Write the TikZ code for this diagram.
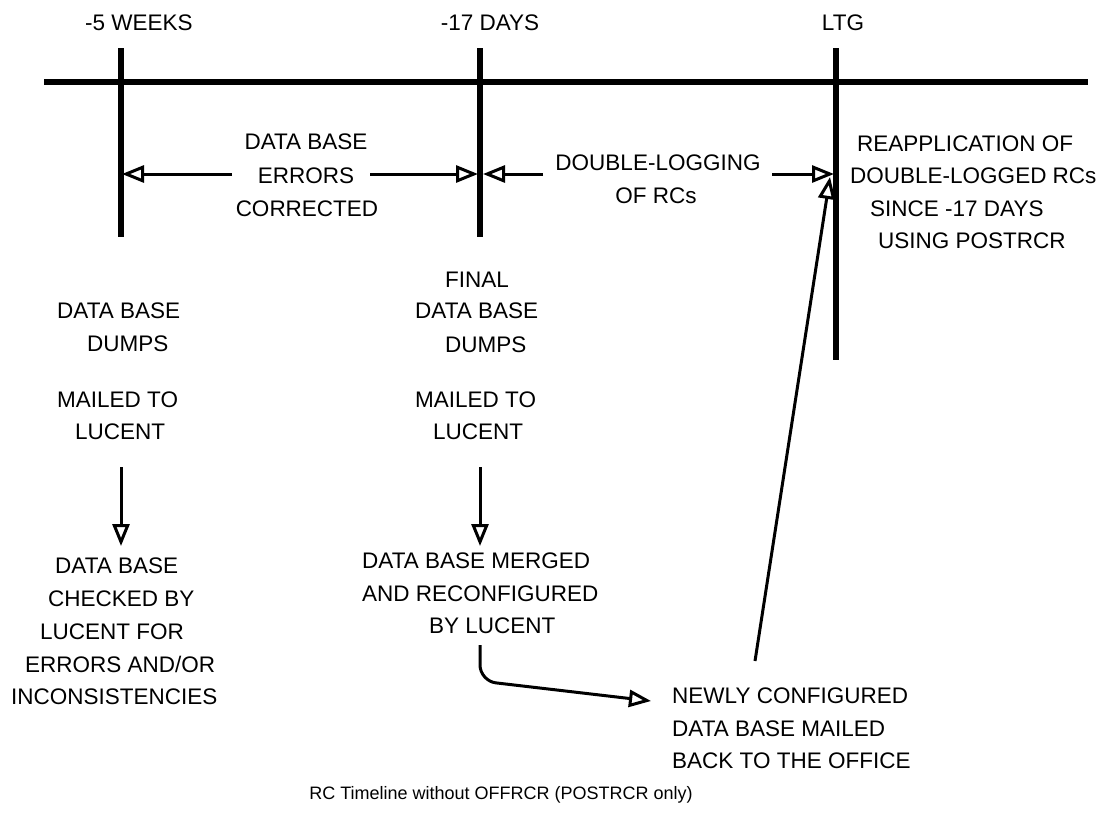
\documentclass[tikz,border=0pt]{standalone}
\usepackage{fontspec}
\setmainfont{Liberation Sans}
\usetikzlibrary{arrows.meta}
\begin{document}
\begin{tikzpicture}[x=1pt,y=-1pt,
  lbl/.style={font=\fontsize{22.5}{33}\selectfont, inner sep=0pt, anchor=base west},
  ctr/.style={font=\fontsize{22.5}{33}\selectfont, inner sep=0pt, anchor=base},
  captiontext/.style={font=\fontsize{18}{22}\selectfont, inner sep=0pt, anchor=base},
  axisline/.style={line width=6.5pt},
  tickline/.style={line width=6pt},
  arr/.style={line width=3pt, -{Triangle[open,length=22pt,width=17pt,line width=3pt]}},
]
\useasboundingbox (0,0) rectangle (1102,831);

% time axis and the three milestones
\coordinate (axL) at (44,82);
\coordinate (axR) at (1088,82);
\draw[axisline] (axL) -- (axR);
\coordinate (m1t) at (121,48);  \coordinate (m1b) at (121,237);
\coordinate (m2t) at (480,48);  \coordinate (m2b) at (480,237);
\coordinate (m3t) at (836,48);  \coordinate (m3b) at (836,360);
\draw[tickline] (m1t) -- (m1b);
\draw[tickline] (m2t) -- (m2b);
\draw[tickline] (m3t) -- (m3b);

\node[ctr] (lab5w) at (139,30) {-5 WEEKS};
\node[ctr] (lab17d) at (490,30) {-17 DAYS};
\node[ctr] (labltg) at (843,30) {LTG};

% interval between -5 weeks and -17 days
\node[ctr] (err1) at (306,149) {DATA BASE};
\node[ctr] (err2) at (306,183) {ERRORS};
\node[ctr] (err3) at (307,216) {CORRECTED};
\coordinate (errL) at (232,174);
\coordinate (errR) at (370,174);
\coordinate (m1a) at (122,174);
\coordinate (m2a) at (478,174);
\draw[arr] (errL) -- (m1a);
\draw[arr] (errR) -- (m2a);

% interval between -17 days and LTG
\node[ctr] (dbl1) at (658,170) {DOUBLE-LOGGING};
\node[ctr] (dbl2) at (656,203) {OF RCs};
\coordinate (dblL) at (543,174);
\coordinate (dblR) at (772,174);
\coordinate (m2c) at (483,174);
\coordinate (m3a) at (834,174);
\draw[arr] (dblL) -- (m2c);
\draw[arr] (dblR) -- (m3a);

% after LTG
\node[lbl] (re1) at (857,151) {REAPPLICATION OF};
\node[lbl] (re2) at (850,183) {DOUBLE-LOGGED RCs};
\node[lbl] (re3) at (870,216) {SINCE -17 DAYS};
\node[lbl] (re4) at (878,248) {USING POSTRCR};

% first dump
\node[lbl] (d1a) at (57,318) {DATA BASE};
\node[lbl] (d1b) at (87,351) {DUMPS};
\node[lbl] (d1c) at (57,407) {MAILED TO};
\node[lbl] (d1d) at (75,439) {LUCENT};
\coordinate (d1s) at (121,467);
\coordinate (d1e) at (121,546);
\draw[arr] (d1s) -- (d1e);
\node[lbl] (c1) at (55,573) {DATA BASE};
\node[lbl] (c2) at (48,606) {CHECKED BY};
\node[lbl] (c3) at (40,639) {LUCENT FOR};
\node[lbl] (c4) at (25,672) {ERRORS AND/OR};
\node[lbl] (c5) at (11,704) {INCONSISTENCIES};

% final dump
\node[lbl] (d2a) at (445,287) {FINAL};
\node[lbl] (d2b) at (415,318) {DATA BASE};
\node[lbl] (d2c) at (445,352) {DUMPS};
\node[lbl] (d2d) at (415,407) {MAILED TO};
\node[lbl] (d2e) at (433,439) {LUCENT};
\coordinate (d2s) at (480,467);
\coordinate (d2f) at (480,546);
\draw[arr] (d2s) -- (d2f);
\node[lbl] (mg1) at (362,568) {DATA BASE MERGED};
\node[lbl] (mg2) at (362,601) {AND RECONFIGURED};
\node[lbl] (mg3) at (429,633) {BY LUCENT};

% mailed back and reapplied
\node[lbl] (nw1) at (672,703) {NEWLY CONFIGURED};
\node[lbl] (nw2) at (672,736) {DATA BASE MAILED};
\node[lbl] (nw3) at (672,768) {BACK TO THE OFFICE};
\coordinate (mgs) at (480,645);
\coordinate (mgc) at (480,681);
\coordinate (nwin) at (651,701);
\draw[arr, rounded corners=16pt] (mgs) -- (mgc) -- (nwin);
\coordinate (nwout) at (755,661);
\coordinate (m3in) at (830,177);
\draw[arr] (nwout) -- (m3in);

\node[captiontext] (caption) at (501,799) {RC Timeline without OFFRCR (POSTRCR only)};
\end{tikzpicture}
\end{document}
